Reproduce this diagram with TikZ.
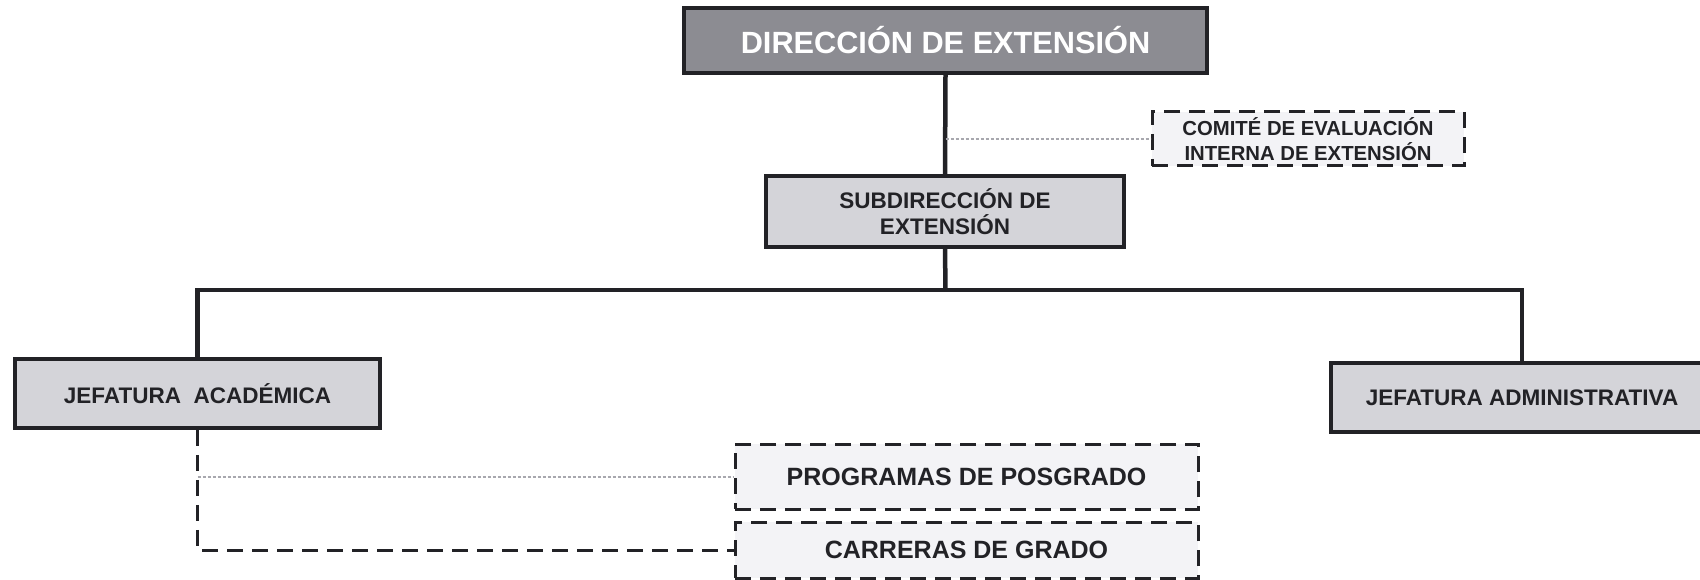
\documentclass[tikz,border=0pt]{standalone}
\usepackage{fontspec}
\setmainfont{Liberation Sans}
\definecolor{linec}{HTML}{222226}
\definecolor{dirfill}{HTML}{8C8C92}
\definecolor{lightfill}{HTML}{D4D4D9}
\definecolor{palefill}{HTML}{F3F3F6}
\definecolor{dotc}{HTML}{A8A8AE}
\begin{document}
\begin{tikzpicture}[x=1pt,y=-1pt,
  box/.style={draw=linec, line width=3.5pt, inner sep=0pt, align=center, line join=miter},
  topbox/.style={box, fill=dirfill, text=white, font={\fontsize{30.7}{34}\selectfont\bfseries}},
  graybox/.style={box, fill=lightfill, text=linec},
  dashbox/.style={box, fill=palefill, text=linec, line width=3pt, dash pattern=on 16pt off 9pt},
  link/.style={draw=linec, line width=4.5pt, line join=miter},
  dashlink/.style={draw=linec, line width=3pt, dash pattern=on 16pt off 9pt},
  dotlink/.style={draw=dotc, line width=2pt, dash pattern=on 3pt off 2pt},
  midfont/.style={font={\fontsize{22.5}{26}\selectfont\bfseries}},
  smallfont/.style={font={\fontsize{20.3}{25}\selectfont\bfseries}},
  bigfont/.style={font={\fontsize{25}{30}\selectfont\bfseries}}
]
\useasboundingbox (0,0) rectangle (1700,580);

\node[topbox, minimum width=523pt, minimum height=65pt] (dir) at (945.5,40.5) {DIRECCIÓN DE EXTENSIÓN};
\node[dashbox, smallfont, minimum width=312pt, minimum height=54pt] (com) at (1308,139) {COMITÉ DE EVALUACIÓN\\INTERNA DE EXTENSIÓN};
\node[graybox, midfont, minimum width=358pt, minimum height=71pt] (sub) at (945,211.5) {SUBDIRECCIÓN DE\\EXTENSIÓN};
\node[graybox, midfont, minimum width=365pt, minimum height=69pt] (aca) at (197.5,393.5) {JEFATURA\ \ ACADÉMICA};
\node[graybox, midfont, minimum width=382pt, minimum height=69pt] (adm) at (1522,397.5) {JEFATURA ADMINISTRATIVA};
\node[dashbox, bigfont, minimum width=463pt, minimum height=65pt] (pos) at (966.5,476.5) {PROGRAMAS DE POSGRADO};
\node[dashbox, bigfont, minimum width=463pt, minimum height=56pt] (car) at (966.5,550) {CARRERAS DE GRADO};

\coordinate (tap) at (945.5,139);
\coordinate (hub) at (945.5,290);

\draw[link] (dir.south) -- (sub.north);
\draw[dotlink] (tap) -- (com.west);
\draw[link] (sub.south) -- (hub);
\draw[link] (aca.north) |- (hub) -| (adm.north);
\draw[dashlink] (aca.south) |- (car.west);
\draw[dotlink] (aca.south |- pos.west) -- (pos.west);
\end{tikzpicture}
\end{document}
